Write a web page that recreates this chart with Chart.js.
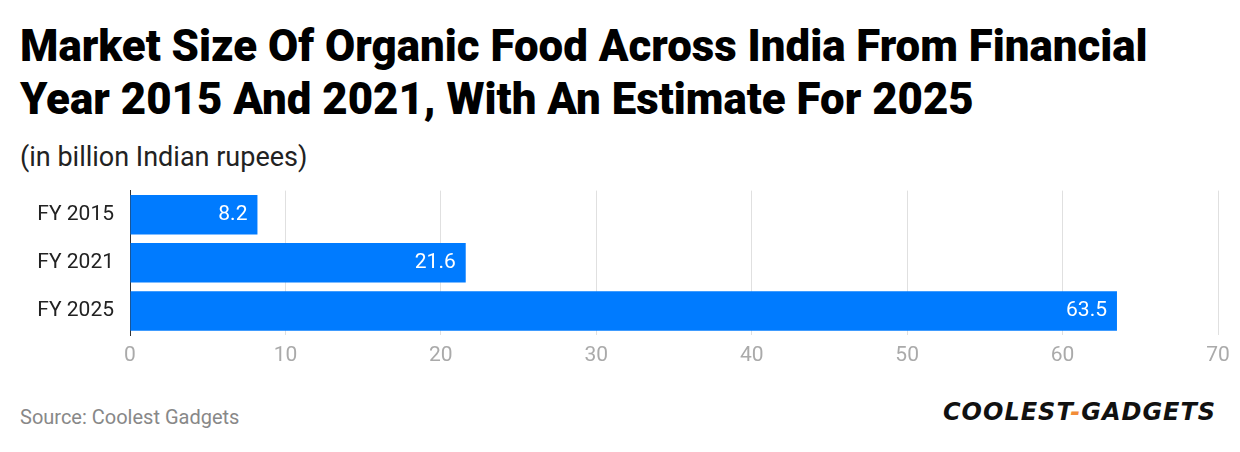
<!DOCTYPE html>
<html><head><meta charset="utf-8">
<script src="https://cdn.jsdelivr.net/npm/chart.js@4/dist/chart.umd.min.js"></script>
<style>
body{margin:0;width:1240px;height:452px;background:#fff;font-family:Roboto,sans-serif;position:relative;overflow:hidden}
#t{position:absolute;left:20px;top:20px;font-size:43.8px;font-weight:900;line-height:53px;color:#000;margin:0;white-space:nowrap}
#s{position:absolute;left:20px;top:141px;font-size:27px;color:#222}
#c{position:absolute;left:0;top:170px}
#src{position:absolute;left:20px;top:405px;font-size:20px;color:#888}
#logo{position:absolute;left:943px;top:398px;font-size:24px;font-weight:900;font-style:italic;letter-spacing:1px;color:#111;font-family:"DejaVu Sans",sans-serif}
#logo span{color:#f28c38}
</style></head><body>
<div id="t">Market Size Of Organic Food Across India From Financial<br>Year 2015 And 2021, With An Estimate For 2025</div>
<div id="s">(in billion Indian rupees)</div>
<div id="c"><canvas id="cv" width="1240" height="200"></canvas></div>
<div id="src">Source: Coolest Gadgets</div>
<div id="logo">COOLEST<span>-</span>GADGETS</div>
<script>
const categories=["FY 2015","FY 2021","FY 2025"];
const values=[8.2,21.6,63.5];
const xTicks=[0,10,20,30,40,50,60,70];
const labelPlugin={id:'lbl',afterDatasetsDraw(ch){const ctx=ch.ctx;const m=ch.getDatasetMeta(0);ctx.save();ctx.font='21px Roboto';ctx.fillStyle='#fff';ctx.textAlign='right';ctx.textBaseline='middle';m.data.forEach((b,i)=>{ctx.fillText(String(values[i]),b.x-10,b.y);});ctx.restore();}};
new Chart(document.getElementById('cv'),{type:'bar',data:{labels:categories,datasets:[{data:values,backgroundColor:'#007bff',barPercentage:0.82,categoryPercentage:1}]},
options:{indexAxis:'y',responsive:false,animation:false,layout:{padding:{left:0,right:22,top:0,bottom:0}},
plugins:{legend:{display:false},tooltip:{enabled:false}},
scales:{x:{min:0,max:70,afterFit(s){s.height=35},afterBuildTicks(s){s.ticks=xTicks.map(v=>({value:v}))},grid:{color:'#e0e0e0',drawTicks:false},border:{display:false},ticks:{color:'#aaa',font:{family:'Roboto',size:21},padding:8}},
y:{afterFit(s){s.width=130},grid:{display:false},border:{color:'#333'},ticks:{color:'#222',font:{family:'Roboto',size:21},padding:8}}}},plugins:[labelPlugin]});
</script></body></html>
